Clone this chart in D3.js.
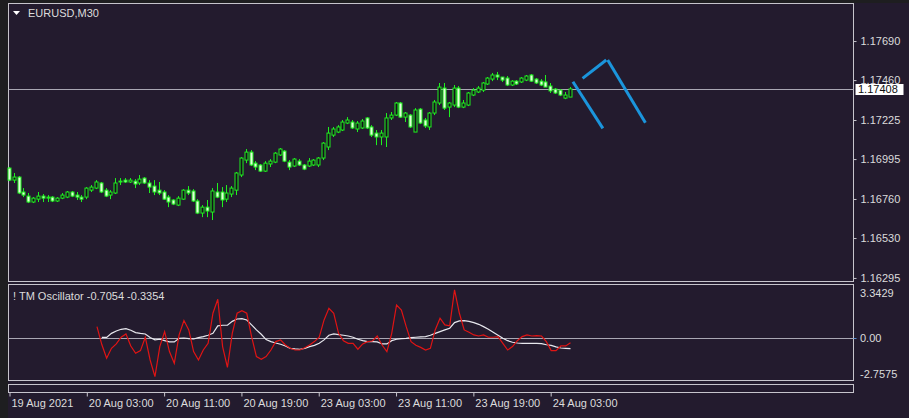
<!DOCTYPE html>
<html><head><meta charset="utf-8">
<script src="https://cdn.jsdelivr.net/npm/d3@7"></script>
<style>body{margin:0;background:#231b2e;overflow:hidden} svg{display:block}</style>
</head><body>
<script>
// ---------- DATA ----------
const symbolTitle = "EURUSD,M30";
const oscTitle = "! TM Oscillator -0.7054 -0.3354";
const opens = [1.16942,1.16871,1.16889,1.16801,1.16777,1.16742,1.16759,1.16777,1.16765,1.16771,
1.16748,1.16765,1.16771,1.16801,1.16783,1.16771,1.16771,1.16812,1.16824,1.16854,
1.16812,1.16783,1.16795,1.16860,1.16871,1.16860,1.16865,1.16854,1.16883,1.16854,
1.16836,1.16812,1.16801,1.16771,1.16754,1.16724,1.16759,1.16812,1.16807,1.16748,
1.16677,1.16712,1.16683,1.16801,1.16801,1.16759,1.16789,1.16812,1.16901,1.16989,
1.17036,1.16971,1.16960,1.16924,1.16966,1.16977,1.17019,1.17042,1.16977,1.16954,
1.16983,1.16960,1.16954,1.16960,1.16960,1.17001,1.17066,1.17136,1.17154,1.17166,
1.17207,1.17213,1.17172,1.17178,1.17237,1.17184,1.17148,1.17125,1.17125,1.17237,
1.17254,1.17325,1.17242,1.17254,1.17154,1.17289,1.17225,1.17184,1.17266,1.17325,
1.17413,1.17301,1.17313,1.17413,1.17301,1.17313,1.17372,1.17390,1.17401,1.17437,
1.17466,1.17490,1.17478,1.17472,1.17431,1.17454,1.17449,1.17460,1.17490,1.17466,
1.17454,1.17449,1.17425,1.17407,1.17401,1.17354,1.17360];
const highs = [1.16948,1.16913,1.16895,1.16824,1.16795,1.16771,1.16801,1.16789,1.16783,1.16777,
1.16771,1.16795,1.16807,1.16807,1.16801,1.16783,1.16830,1.16842,1.16871,1.16860,
1.16824,1.16812,1.16883,1.16883,1.16883,1.16883,1.16877,1.16901,1.16889,1.16871,
1.16871,1.16860,1.16812,1.16783,1.16759,1.16777,1.16818,1.16836,1.16818,1.16759,
1.16724,1.16754,1.16824,1.16854,1.16830,1.16842,1.16836,1.16919,1.17007,1.17054,
1.17048,1.16983,1.16966,1.16983,1.16995,1.17036,1.17060,1.17048,1.16989,1.17001,
1.16995,1.16966,1.17001,1.16995,1.17007,1.17095,1.17184,1.17184,1.17195,1.17225,
1.17242,1.17225,1.17219,1.17231,1.17242,1.17195,1.17166,1.17166,1.17266,1.17272,
1.17331,1.17331,1.17272,1.17260,1.17295,1.17295,1.17237,1.17272,1.17343,1.17443,
1.17443,1.17331,1.17431,1.17425,1.17343,1.17390,1.17413,1.17425,1.17449,1.17478,
1.17502,1.17508,1.17478,1.17484,1.17460,1.17460,1.17478,1.17490,1.17496,1.17472,
1.17466,1.17490,1.17443,1.17413,1.17407,1.17390,1.17419];
const lows = [1.16865,1.16854,1.16789,1.16771,1.16736,1.16736,1.16742,1.16742,1.16742,1.16742,
1.16742,1.16759,1.16765,1.16771,1.16754,1.16742,1.16759,1.16801,1.16818,1.16795,
1.16771,1.16759,1.16789,1.16842,1.16854,1.16854,1.16824,1.16842,1.16848,1.16795,
1.16783,1.16783,1.16754,1.16712,1.16724,1.16718,1.16754,1.16783,1.16742,1.16671,
1.16653,1.16653,1.16636,1.16765,1.16712,1.16742,1.16771,1.16783,1.16889,1.16971,
1.16954,1.16930,1.16919,1.16919,1.16948,1.16971,1.17013,1.16977,1.16930,1.16948,
1.16954,1.16930,1.16948,1.16954,1.16948,1.16989,1.17048,1.17125,1.17148,1.17160,
1.17201,1.17172,1.17154,1.17172,1.17172,1.17125,1.17077,1.17077,1.17066,1.17225,
1.17248,1.17237,1.17213,1.17178,1.17154,1.17201,1.17178,1.17166,1.17254,1.17313,
1.17284,1.17242,1.17301,1.17295,1.17295,1.17307,1.17366,1.17384,1.17390,1.17431,
1.17454,1.17460,1.17449,1.17425,1.17425,1.17431,1.17443,1.17454,1.17449,1.17437,
1.17425,1.17419,1.17384,1.17378,1.17366,1.17348,1.17360];
const closes = [1.16871,1.16889,1.16795,1.16783,1.16742,1.16765,1.16777,1.16765,1.16771,1.16748,
1.16765,1.16783,1.16801,1.16777,1.16771,1.16759,1.16824,1.16830,1.16860,1.16801,
1.16777,1.16801,1.16854,1.16865,1.16860,1.16871,1.16848,1.16877,1.16854,1.16830,
1.16801,1.16795,1.16759,1.16742,1.16730,1.16765,1.16812,1.16795,1.16748,1.16677,
1.16712,1.16689,1.16807,1.16771,1.16754,1.16795,1.16824,1.16913,1.17001,1.17036,
1.16960,1.16948,1.16924,1.16971,1.16983,1.17030,1.17054,1.16983,1.16948,1.16995,
1.16960,1.16936,1.16983,1.16989,1.17001,1.17089,1.17148,1.17172,1.17184,1.17213,
1.17225,1.17178,1.17207,1.17219,1.17178,1.17136,1.17125,1.17148,1.17237,1.17254,
1.17325,1.17242,1.17266,1.17184,1.17284,1.17207,1.17190,1.17266,1.17331,1.17419,
1.17295,1.17325,1.17413,1.17301,1.17325,1.17384,1.17401,1.17413,1.17443,1.17472,
1.17490,1.17478,1.17460,1.17431,1.17454,1.17437,1.17472,1.17484,1.17454,1.17443,
1.17431,1.17419,1.17396,1.17384,1.17372,1.17372,1.17408];
const lastPrice = 1.17408;
const priceTicks = [1.17690,1.17460,1.17225,1.16995,1.16760,1.16530,1.16295];
const priceDomain = [1.16277, 1.17914];

const timeTickIdx = [0,16,32,48,64,80,96,112];
const timeLabels = ["19 Aug 2021","20 Aug 03:00","20 Aug 11:00","20 Aug 19:00","23 Aug 03:00","23 Aug 11:00","23 Aug 19:00","24 Aug 03:00"];

const redStart = 18;
const redValues = [0.70,-0.45,-1.33,-0.69,-0.41,0.02,0.23,-0.54,-1.01,-0.84,
0.02,-1.44,-2.51,-0.58,0.38,-0.90,-1.65,0.17,1.09,0.49,
-0.90,-1.44,-0.80,-0.37,1.56,2.46,-0.58,-1.91,0.27,1.56,
1.73,1.56,0.06,-1.22,-1.39,-1.22,-0.80,-0.26,-0.15,-0.48,
-0.69,-0.80,-0.80,-0.65,-0.48,-0.26,0.02,1.13,1.88,1.56,
0.27,-0.20,-0.37,-0.37,-0.75,-0.41,-0.26,-0.22,0.10,-0.48,
-0.90,0.27,2.09,1.77,0.70,-0.26,-0.50,-0.63,-0.80,-0.69,
0.49,1.24,0.81,0.75,3.06,1.56,0.49,0.34,0.17,0.10,
0.17,0.02,0.02,0.06,-0.37,-0.80,-0.58,-0.20,0.06,0.17,
0.10,0.12,0.10,-0.26,-0.84,-0.84,-0.54,-0.54,-0.3354];
const whiteStart = 19;
const whiteValues = [0.01,0.01,0.27,0.42,0.53,0.57,0.47,0.32,0.27,0.23,
0.00,-0.15,-0.11,-0.20,-0.28,-0.28,-0.05,-0.03,-0.07,-0.09,
0.00,0.06,0.15,0.27,0.75,0.79,0.79,1.04,1.19,1.22,
1.13,0.81,0.49,0.21,-0.13,-0.26,-0.35,-0.43,-0.54,-0.69,
-0.73,-0.75,-0.69,-0.58,-0.50,-0.37,-0.15,0.15,0.23,0.19,
0.15,0.10,0.02,-0.11,-0.20,-0.26,-0.26,-0.28,-0.41,-0.41,
-0.20,-0.11,-0.07,-0.05,0.00,0.02,0.04,0.06,0.15,0.27,
0.38,0.49,0.60,0.96,1.07,1.09,1.04,0.96,0.85,0.70,
0.53,0.34,0.15,-0.05,-0.20,-0.30,-0.35,-0.37,-0.37,-0.37,
-0.37,-0.39,-0.46,-0.50,-0.60,-0.67,-0.69,-0.7054];
const oscLabelValues = [3.3429, 0, -2.7575];
const oscLabelTexts = ["3.3429","0.00","-2.7575"];
const oscDomain = [-2.7575, 3.3429];

// hand-drawn trend lines: [barIndex, price] endpoints
const trendIdx = [[116.5,122.7],[118.5,123.4],[123.7,131.5]];
const trendPrice = [[1.17450,1.17176],[1.17470,1.17578],[1.17578,1.17209]];

// ---------- DRAW ----------
const W = 909, H = 418;
const BG = "#231b2e", FRAME = "#c6c4cc", TXT = "#dcdcdc", LIME = "#1ff01f";
const FONT = '11px "Liberation Sans", Arial, sans-serif';
const L = 8.5, R = 853.5;

const svg = d3.select("body").append("svg").attr("width", W).attr("height", H);
svg.append("rect").attr("width", W).attr("height", H).attr("fill", BG);
svg.append("rect").attr("x", 0).attr("y", 0).attr("width", 8).attr("height", H).attr("fill", "#1e1e20");
svg.append("rect").attr("x", 0).attr("y", 0).attr("width", W).attr("height", 3).attr("fill", "#1e1e20");

const x = d3.scaleLinear().domain([0, 116]).range([10, 570.5]);
const y = d3.scaleLinear().domain(priceDomain).range([281, 3]);
const yo = d3.scaleLinear().domain(oscDomain).range([380.5, 285.5]);

// panel frames
const panels = [[3.5, 281.5], [284.5, 380.5], [384.5, 392.5]];
svg.selectAll("rect.panel").data(panels).enter().append("rect")
  .attr("class", "panel").attr("x", L).attr("y", d => d[0])
  .attr("width", R - L).attr("height", d => d[1] - d[0])
  .attr("fill", "none").attr("stroke", FRAME).attr("stroke-width", 1);

// current price line
const py = Math.round(y(lastPrice)) + 0.5;
svg.append("line").attr("x1", L).attr("x2", R).attr("y1", py).attr("y2", py)
  .attr("stroke", "#a9a7b3").attr("stroke-width", 1);

// candles
const bars = d3.range(opens.length).map(i => ({i, o: opens[i], h: highs[i], l: lows[i], c: closes[i]}));
const cg = svg.append("g");
bars.forEach(b => {
  const cx = Math.round(x(b.i));
  cg.append("line").attr("x1", cx - 0.5).attr("x2", cx - 0.5)
    .attr("y1", y(b.h)).attr("y2", y(b.l)).attr("stroke", LIME).attr("stroke-width", 1);
  const top = y(Math.max(b.o, b.c)), bot = y(Math.min(b.o, b.c));
  cg.append("rect").attr("x", cx - 2.5 + 0.5).attr("y", top)
    .attr("width", 3).attr("height", Math.max(0.5, bot - top))
    .attr("fill", b.c >= b.o ? "#140f1a" : "#e4fbdc")
    .attr("stroke", LIME).attr("stroke-width", 1);
});

// trend lines
trendIdx.forEach((ti, k) => {
  svg.append("line")
    .attr("x1", x(ti[0])).attr("y1", y(trendPrice[k][0]))
    .attr("x2", x(ti[1])).attr("y2", y(trendPrice[k][1]))
    .attr("stroke", "#1b95dc").attr("stroke-width", 3).attr("stroke-linecap", "butt");
});

// price axis
const ya = svg.append("g").attr("transform", `translate(${R},0)`)
  .call(d3.axisRight(y).tickValues(priceTicks).tickFormat(d3.format(".5f")).tickSize(3).tickPadding(4));
ya.select(".domain").remove();
ya.selectAll("line").attr("stroke", FRAME);
ya.selectAll("text").attr("fill", TXT).style("font", FONT);

// last price box
svg.append("rect").attr("x", 855.5).attr("y", py - 5.5).attr("width", 48).attr("height", 11)
  .attr("fill", "#ffffff");
svg.append("text").attr("x", 858).attr("y", py).attr("dy", "0.36em")
  .attr("fill", "#101010").style("font", FONT).text(d3.format(".5f")(lastPrice));

// titles
svg.append("path").attr("d", "M13,11 L20,11 L16.5,15 Z").attr("fill", "#ffffff");
svg.append("text").attr("x", 28).attr("y", 13).attr("dy", "0.35em").attr("fill", TXT)
  .style("font", FONT).text(symbolTitle);
svg.append("text").attr("x", 13).attr("y", 296).attr("dy", "0.35em").attr("fill", TXT)
  .style("font", FONT).text(oscTitle);

// oscillator zero line
const zy = Math.round(yo(0)) + 0.5;
svg.append("line").attr("x1", L).attr("x2", R).attr("y1", zy).attr("y2", zy)
  .attr("stroke", "#a9a7b3").attr("stroke-width", 1);

// oscillator lines
const line = d3.line().x(d => x(d.i)).y(d => yo(d.v));
const whiteData = whiteValues.map((v, k) => ({i: whiteStart + k, v}));
const redData = redValues.map((v, k) => ({i: redStart + k, v}));
svg.append("path").datum(whiteData).attr("d", line).attr("fill", "none")
  .attr("stroke", "#e8e8ee").attr("stroke-width", 1.2);
svg.append("path").datum(redData).attr("d", line).attr("fill", "none")
  .attr("stroke", "#e01414").attr("stroke-width", 1.2);

// oscillator labels
const oscLabelY = [293, zy, 374];
oscLabelValues.forEach((v, k) => {
  svg.append("text").attr("x", 860).attr("y", oscLabelY[k]).attr("dy", "0.35em")
    .attr("fill", TXT).style("font", FONT).text(oscLabelTexts[k]);
});
svg.append("line").attr("x1", R).attr("x2", R + 3).attr("y1", zy).attr("y2", zy)
  .attr("stroke", "#5a8fd0");

// time axis
const xa = svg.append("g").attr("transform", "translate(0,392.5)")
  .call(d3.axisBottom(x).tickValues(timeTickIdx).tickFormat((d, k) => timeLabels[k]).tickSize(4).tickPadding(3));
xa.select(".domain").remove();
xa.selectAll("line").attr("stroke", FRAME).attr("transform", "translate(-0.5,0)");
xa.selectAll("text").attr("fill", TXT).style("font", FONT).attr("text-anchor", "start").attr("x", 1);
</script>
</body></html>
